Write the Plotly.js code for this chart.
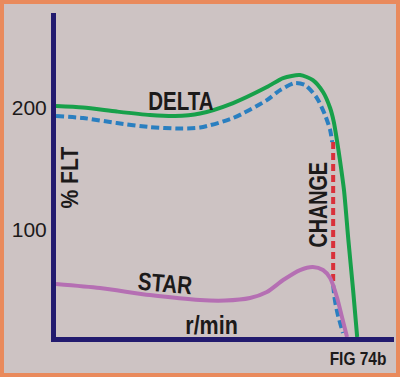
<!DOCTYPE html>
<html>
<head>
<meta charset="utf-8">
<script src="https://cdn.plot.ly/plotly-3.0.1.min.js"></script>
<style>
  html, body { margin: 0; padding: 0; background: #cdc3c3; }
  #wrap { position: relative; width: 400px; height: 377px; }
  #chart { position: absolute; left: 0; top: 0; width: 400px; height: 377px; }
  #frame { position: absolute; left: 0; top: 0; width: 400px; height: 377px; box-sizing: border-box; border: 4px solid #e98a5c; pointer-events: none; }
</style>
</head>
<body>
<div id="wrap">
  <div id="chart"></div>
  <div id="frame"></div>
</div>
<script>
// r/min (arbitrary units, 0-100 across the axis)
const deltaX = [0, 8.0, 18.0, 27.8, 35.2, 42.6, 52.4, 62.4, 67.2, 72.2, 76.0, 79.0, 81.1, 82.2, 83.1, 84.0, 85.2, 86.5, 87.9, 89.1];
const deltaY = [201.2, 200, 196.7, 193.9, 193.0, 195.1, 203.7, 216.8, 224.2, 226.6, 222.5, 212.7, 199.6, 188.1, 173.4, 157.0, 132.4, 91.4, 50.4, 11.9];

const deltaChangeX = [0, 8.0, 18.0, 27.8, 36.7, 42.6, 52.4, 62.4, 66.3, 70.7, 73.7, 77.2, 79.6, 81.1, 81.7, null, 82.0, 82.5, 83.4, 84.9];
const deltaChangeY = [193.0, 191.4, 187.3, 184.0, 182.8, 183.6, 191.4, 206.1, 214.3, 220.1, 218.4, 207.8, 193.9, 181.6, 171.7, null, 54.5, 42.2, 30.0, 15.2];

const starX = [0, 13.0, 27.8, 42.6, 50.0, 57.4, 62.4, 67.2, 72.2, 76.0, 79.0, 81.1, 83.1, 84.6, 86.1];
const starY = [55.3, 52.0, 46.3, 42.2, 41.8, 43.9, 48.8, 58.6, 66.8, 69.3, 66.8, 60.2, 44.7, 28.3, 11.9];

const changeX = [82.0, 82.0];
const changeY = [171.7, 56.1];

const yTicks = [100, 200];
const yTickText = ['100', '200'];

const labelFont = '"Liberation Sans", Arial, sans-serif';
const ink = '#1c1a1a';

const traces = [
  { x: changeX, y: changeY, mode: 'lines', line: { color: '#d9303a', width: 4, dash: '7px,4px' }, hoverinfo: 'skip' },
  { x: deltaChangeX, y: deltaChangeY, mode: 'lines', connectgaps: false, line: { color: '#2a7fc0', width: 4, dash: '8px,4px', shape: 'spline', smoothing: 0.7 }, hoverinfo: 'skip' },
  { x: deltaX, y: deltaY, mode: 'lines', line: { color: '#17a04a', width: 4, shape: 'spline', smoothing: 0.7 }, hoverinfo: 'skip' },
  { x: starX, y: starY, mode: 'lines', line: { color: '#b56fb3', width: 4, shape: 'spline', smoothing: 0.7 }, hoverinfo: 'skip' }
];

// horizontal condensing factor per annotation (the original lettering is a narrow face)
const squeeze = [0.82, 0.82, 0.86, 0.88, 0.79, 0.86];

const layout = {
  width: 400, height: 377,
  margin: { l: 56, r: 6, t: 13, b: 40 },
  paper_bgcolor: '#cdc3c3',
  plot_bgcolor: '#cdc3c3',
  showlegend: false,
  xaxis: {
    range: [0, 100], showgrid: false, zeroline: false, showticklabels: false, ticks: '',
    showline: true, linecolor: '#221a6e', linewidth: 5, fixedrange: true
  },
  yaxis: {
    range: [11.9, 277.5], showgrid: false, zeroline: false, ticks: '',
    tickvals: yTicks, ticktext: yTickText,
    tickfont: { family: labelFont, size: 21, color: ink },
    showline: true, linecolor: '#221a6e', linewidth: 5, fixedrange: true
  },
  annotations: [
    { x: 37.0, y: 205.3, xref: 'x', yref: 'y', text: '<b>DELTA</b>', showarrow: false, font: { family: labelFont, size: 25, color: ink } },
    { x: 32.2, y: 56.1, xref: 'x', yref: 'y', text: '<b>STAR</b>', showarrow: false, textangle: 5, font: { family: labelFont, size: 25, color: ink } },
    { x: 45.9, y: 21.7, xref: 'x', yref: 'y', text: '<b>r/min</b>', showarrow: false, font: { family: labelFont, size: 25, color: ink } },
    { x: 4.1, y: 143.1, xref: 'x', yref: 'y', text: '<b>% FLT</b>', showarrow: false, textangle: -90, font: { family: labelFont, size: 24, color: ink } },
    { x: 77.5, y: 120.1, xref: 'x', yref: 'y', text: '<b>CHANGE</b>', showarrow: false, textangle: -90, font: { family: labelFont, size: 25, color: ink } },
    { x: 0.893, y: -0.0694, xref: 'paper', yref: 'paper', xanchor: 'center', yanchor: 'middle', text: '<b>FIG 74b</b>', showarrow: false, font: { family: labelFont, size: 18, color: ink } }
  ]
};

Plotly.newPlot('chart', traces, layout, { staticPlot: true, displayModeBar: false }).then(function (gd) {
  const groups = gd.querySelectorAll('g.annotation');
  groups.forEach(function (g) {
    const idx = +g.getAttribute('data-index');
    const t = g.querySelector('text.annotation-text');
    if (!t || !(idx in squeeze)) return;
    const bb = t.getBBox();
    const cx = bb.x + bb.width / 2;
    const s = squeeze[idx];
    const prev = t.getAttribute('transform') || '';
    t.setAttribute('transform', prev + ' translate(' + cx + ',0) scale(' + s + ',1) translate(' + (-cx) + ',0)');
  });
});
</script>
</body>
</html>
